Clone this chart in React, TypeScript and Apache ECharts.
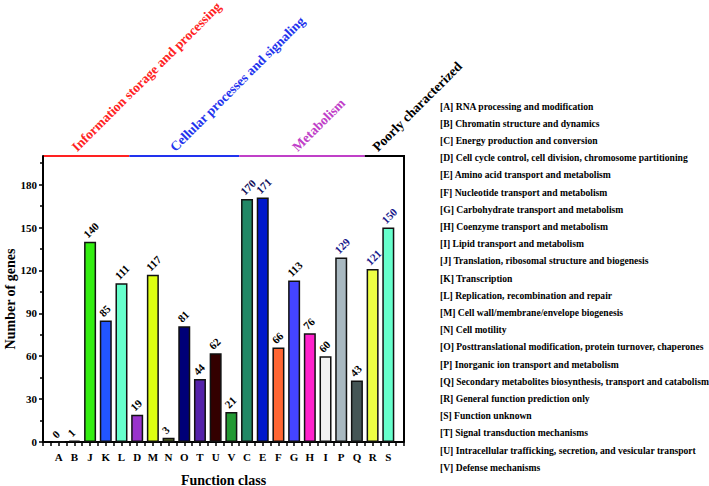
import React, { useEffect, useRef } from "react";
import * as echarts from "echarts";

const categories = ["A","B","J","K","L","D","M","N","O","T","U","V","C","E","F","G","H","I","P","Q","R","S"];
const geneCounts = [0,1,140,85,111,19,117,3,81,44,62,21,170,171,66,113,76,60,129,43,121,150];
const barColors = ["#ff2020","#ff2020","#33ee11","#2255ff","#66ffcc","#9933cc","#ddff11","#556622","#000077","#5522aa","#330000","#229933","#228866","#0018cc","#ff6633","#4444ff","#ff22cc","#f2f2f2","#a8b8c0","#445555","#eeff44","#66ffcc"];
const labelColors = ["#000","#000","#000","#000","#000","#000","#000","#000","#000","#000","#000","#000","#10105a","#10105a","#000","#000","#000","#000","#1a1a8c","#000","#1a1a8c","#1a1a8c"];

const groupNames = ["Information storage and processing","Cellular processes and signaling","Metabolism","Poorly characterized"];
const groupColors = ["#ff2222","#2233ee","#c040c8","#000000"];
const groupStarts = [0, 5.5, 12.5, 20.5];
const groupEnds = [5.5, 12.5, 20.5, 23];
const groupTextAt = [2.3, 8.55, 16.35, 21.45];

const yTicks = [0,30,60,90,120,150,180];
const yMinorTicks = [15,45,75,105,135,165,195];

const legendLines = [
  "[A] RNA processing and modification",
  "[B] Chromatin structure and dynamics",
  "[C] Energy production and conversion",
  "[D] Cell cycle control, cell division, chromosome partitioning",
  "[E] Amino acid transport and metabolism",
  "[F] Nucleotide transport and metabolism",
  "[G] Carbohydrate transport and metabolism",
  "[H] Coenzyme transport and metabolism",
  "[I] Lipid transport and metabolism",
  "[J] Translation, ribosomal structure and biogenesis",
  "[K] Transcription",
  "[L] Replication, recombination and repair",
  "[M] Cell wall/membrane/envelope biogenesis",
  "[N] Cell motility",
  "[O] Posttranslational modification, protein turnover, chaperones",
  "[P] Inorganic ion transport and metabolism",
  "[Q] Secondary metabolites biosynthesis, transport and catabolism",
  "[R] General function prediction only",
  "[S] Function unknown",
  "[T] Signal transduction mechanisms",
  "[U] Intracellular trafficking, secretion, and vesicular transport",
  "[V] Defense mechanisms",
];

const FONT = "'Liberation Serif', 'Times New Roman', serif";

export default function App() {
  const ref = useRef<HTMLDivElement>(null);
  useEffect(() => {
    if (!ref.current) return;
    const chart = echarts.init(ref.current, null, { renderer: "svg" });
    const GRID = { left: 43, right: 305, top: 156, bottom: 44 };
    const option: any = {
      animation: false,
      backgroundColor: "#fff",
      grid: { ...GRID, containLabel: false, outerBoundsMode: "none" },
      xAxis: {
        type: "value",
        min: 0,
        max: 23,
        interval: 1,
        name: "Function class",
        nameLocation: "middle",
        nameGap: 31,
        nameMoveOverlap: false,
        nameTextStyle: { fontFamily: FONT, fontWeight: "bold", fontSize: 14, color: "#000" },
        axisLine: { lineStyle: { color: "#000", width: 2 } },
        axisTick: { show: true, length: 4, inside: false, lineStyle: { color: "#000", width: 1.5 } },
        minorTick: { show: true, splitNumber: 2, length: 4, lineStyle: { color: "#000", width: 1.5 } },
        splitLine: { show: false },
        minorSplitLine: { show: false },
        axisLabel: {
          fontFamily: FONT, fontWeight: "bold", fontSize: 11, color: "#000", margin: 9,
          formatter: (v: number) => (v >= 1 && v <= categories.length ? categories[v - 1] : ""),
        },
      },
      yAxis: [
        {
          type: "value",
          min: 0,
          max: 200,
          name: "Number of genes",
          nameLocation: "middle",
          nameGap: 26,
          nameMoveOverlap: false,
          nameTextStyle: { fontFamily: FONT, fontWeight: "bold", fontSize: 14, color: "#000" },
          axisLine: { show: true, lineStyle: { color: "#000", width: 2 } },
          axisTick: { show: true, length: 4, customValues: yTicks, lineStyle: { color: "#000", width: 1.5 } },
          axisLabel: { customValues: yTicks, fontFamily: FONT, fontWeight: "bold", fontSize: 11, color: "#000", margin: 6 },
          splitLine: { show: false },
        },
        {
          type: "value",
          min: 0,
          max: 200,
          position: "left",
          axisLine: { show: false },
          axisTick: { show: true, length: 3, customValues: yMinorTicks, lineStyle: { color: "#000", width: 1.5 } },
          axisLabel: { show: false },
          splitLine: { show: false },
        },
      ],
      series: [
        {
          type: "bar",
          barWidth: 12,
          data: geneCounts.map((v, i) => ({
            value: [i + 1, v],
            itemStyle: { color: barColors[i] },
          })),
          itemStyle: { borderColor: "#111", borderWidth: 1.5 },
        },
      ],
    };
    chart.setOption(option);

    const px = (v: number) => chart.convertToPixel({ xAxisIndex: 0 }, v) as number;
    const topY = GRID.top;
    const bottomY = 486 - GRID.bottom;
    const rightX = px(23);
    const graphics: any[] = [];
    geneCounts.forEach((v, i) => {
      const pt = chart.convertToPixel({ xAxisIndex: 0, yAxisIndex: 0 }, [i + 1, v]) as number[];
      graphics.push({
        type: "text",
        x: pt[0] - 1,
        y: pt[1] - 2,
        rotation: Math.PI / 4,
        style: {
          text: String(v),
          fill: labelColors[i],
          font: `bold 11px ${FONT}`,
          textAlign: "left",
          textVerticalAlign: "bottom",
        },
      });
    });
    groupNames.forEach((name, i) => {
      graphics.push({
        type: "line",
        shape: { x1: px(groupStarts[i]), y1: topY, x2: px(groupEnds[i]), y2: topY },
        style: { stroke: groupColors[i], lineWidth: 2 },
      });
      graphics.push({
        type: "text",
        x: px(groupTextAt[i]),
        y: topY - 2,
        rotation: Math.PI / 4,
        style: {
          text: name,
          fill: groupColors[i],
          font: `bold 13.5px ${FONT}`,
          textAlign: "left",
          textVerticalAlign: "bottom",
        },
      });
    });
    graphics.push({
      type: "line",
      shape: { x1: rightX, y1: topY - 1, x2: rightX, y2: bottomY },
      style: { stroke: "#000", lineWidth: 2 },
    });
    legendLines.forEach((t, i) => {
      graphics.push({
        type: "text",
        x: 440,
        y: 106 + i * 17.2,
        style: { text: t, fill: "#000", font: `bold 9.6px ${FONT}`, textAlign: "left", textVerticalAlign: "middle" },
      });
    });
    chart.setOption({ graphic: graphics });
    return () => chart.dispose();
  }, []);
  return <div ref={ref} style={{ position: "fixed", left: 0, top: 0, width: 709, height: 486 }} />;
}
